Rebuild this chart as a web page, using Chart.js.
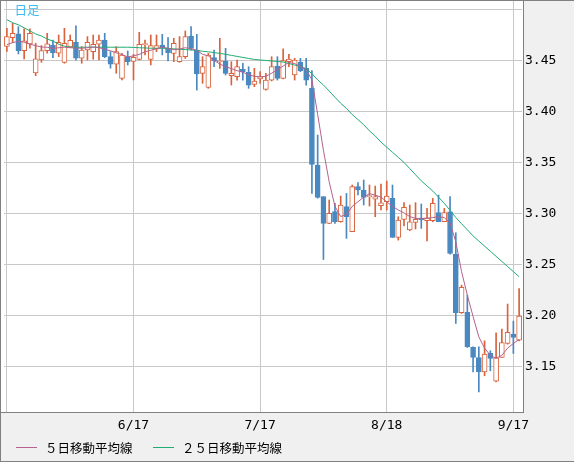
<!DOCTYPE html>
<html>
<head>
<meta charset="utf-8">
<script src="https://cdn.jsdelivr.net/npm/chart.js@4"></script>
<style>
html, body { margin: 0; padding: 0; background: #f0f0f0; }
canvas { display: block; }
</style>
</head>
<body>
<canvas id="chart" width="574" height="462"></canvas>
<script>
// Trading days shown on the x axis
const dates = ['5/16','5/19','5/20','5/21','5/22','5/23','5/26','5/27','5/28','5/29','5/30',
  '6/2','6/3','6/4','6/5','6/6','6/9','6/10','6/11','6/12','6/13','6/16','6/17','6/18','6/19','6/20','6/23','6/24','6/25','6/26','6/27','6/30',
  '7/1','7/2','7/3','7/4','7/7','7/8','7/9','7/10','7/11','7/14','7/15','7/16','7/17','7/18','7/21','7/22','7/23','7/24','7/25','7/28','7/29','7/30','7/31',
  '8/1','8/4','8/5','8/6','8/7','8/8','8/11','8/12','8/13','8/14','8/15','8/18','8/19','8/20','8/21','8/22','8/25','8/26','8/27','8/28','8/29',
  '9/1','9/2','9/3','9/4','9/5','9/8','9/9','9/10','9/11','9/12','9/15','9/16','9/17','9/18'];

// Dates with a vertical grid line, and the ones that get a label
const gridDates = ['5/16', '6/17', '7/17', '8/18', '9/17'];
const labelDates = ['6/17', '7/17', '8/18', '9/17'];

// Daily prices
const opens = [3.4637,3.4724,3.4760,3.4597,3.4662,3.4377,3.4505,3.4597,3.4652,3.4571,
  3.4482,3.4633,3.4679,3.4522,3.4603,3.4587,3.4659,3.4701,3.4538,3.4463,
  3.4325,3.4538,3.4490,3.4511,3.4655,3.4511,3.4613,3.4652,3.4619,3.4570,
  3.4488,3.4537,3.4740,3.4603,3.4374,3.4237,3.4528,3.4488,3.4495,3.4351,
  3.4341,3.4413,3.4384,3.4266,3.4318,3.4217,3.4308,3.4446,3.4325,3.4488,
  3.4358,3.4482,3.4423,3.4227,3.3475,3.3165,3.2903,3.3018,3.2919,3.3067,
  3.2821,3.3263,3.3230,3.3165,3.3140,3.3076,3.3115,3.3148,3.2765,3.2942,
  3.2838,3.2913,3.2952,3.2929,3.2929,3.3008,3.2919,3.3017,3.2602,3.2027,
  3.2030,3.1687,3.1588,3.1448,3.1628,3.1356,3.1588,3.1726,3.1817,3.1758];
const highs = [3.4815,3.4864,3.4831,3.4810,3.4810,3.4669,3.4646,3.4766,3.4700,3.4750,
  3.4815,3.4750,3.4839,3.4635,3.4734,3.4750,3.4750,3.4766,3.4587,3.4635,
  3.4571,3.4593,3.4560,3.4776,3.4701,3.4750,3.4750,3.4756,3.4724,3.4717,
  3.4734,3.4789,3.4832,3.4756,3.4537,3.4570,3.4603,3.4717,3.4619,3.4488,
  3.4505,3.4472,3.4439,3.4423,3.4390,3.4374,3.4537,3.4537,3.4613,3.4560,
  3.4521,3.4521,3.4521,3.4400,3.3769,3.3165,3.3132,3.3099,3.3171,3.3197,
  3.3279,3.3302,3.3328,3.3279,3.3269,3.3289,3.3318,3.3279,3.2968,3.3106,
  3.3083,3.3106,3.3093,3.3050,3.3148,3.3181,3.3050,3.3165,3.2811,3.2298,
  3.2200,3.1693,3.1693,3.1752,3.1654,3.1830,3.1866,3.2112,3.1945,3.2265];
const lows = [3.4588,3.4674,3.4564,3.4515,3.4620,3.4351,3.4482,3.4571,3.4528,3.4538,
  3.4473,3.4630,3.4505,3.4473,3.4505,3.4512,3.4505,3.4528,3.4424,3.4375,
  3.4309,3.4456,3.4309,3.4505,3.4554,3.4456,3.4586,3.4554,3.4495,3.4488,
  3.4482,3.4520,3.4603,3.4210,3.4276,3.4227,3.4439,3.4423,3.4358,3.4259,
  3.4308,3.4308,3.4227,3.4243,3.4276,3.4210,3.4299,3.4308,3.4318,3.4439,
  3.4308,3.4390,3.4259,3.3197,3.3150,3.2549,3.2900,3.2903,3.2915,3.2756,
  3.2821,3.3181,3.3083,3.3073,3.2968,3.3034,3.3034,3.2765,3.2739,3.2877,
  3.2831,3.2848,3.2854,3.2730,3.2919,3.2919,3.2919,3.2602,3.1922,3.2020,
  3.1687,3.1448,3.1252,3.1409,3.1458,3.1350,3.1588,3.1719,3.1628,3.1752];
const closes = [3.4735,3.4766,3.4597,3.4692,3.4766,3.4515,3.4597,3.4662,3.4577,3.4679,
  3.4669,3.4697,3.4522,3.4603,3.4679,3.4659,3.4701,3.4538,3.4463,3.4587,
  3.4554,3.4489,3.4530,3.4658,3.4658,3.4645,3.4645,3.4626,3.4577,3.4668,
  3.4537,3.4734,3.4619,3.4367,3.4439,3.4554,3.4498,3.4495,3.4374,3.4374,
  3.4439,3.4390,3.4259,3.4299,3.4341,3.4308,3.4439,3.4325,3.4498,3.4514,
  3.4505,3.4400,3.4308,3.3481,3.3158,3.2903,3.3001,3.2919,3.3083,3.2968,
  3.3263,3.3230,3.3158,3.3171,3.3165,3.3105,3.3171,3.2765,3.2936,3.3060,
  3.2919,3.2942,3.2936,3.2958,3.3099,3.2919,3.3008,3.2609,3.2027,3.2275,
  3.1693,3.1588,3.1448,3.1621,3.1579,3.1585,3.1735,3.1834,3.1785,3.1994];

// Moving averages as drawn on the picture
const ma5 = [3.4655,3.4675,3.4688,3.4680,3.4660,3.4645,3.4632,3.4630,3.4618,3.4625,
  3.4630,3.4625,3.4622,3.4620,3.4625,3.4632,3.4625,3.4610,3.4595,3.4575,
  3.4558,3.4535,3.4545,3.4560,3.4585,3.4600,3.4615,3.4630,3.4620,3.4605,
  3.4612,3.4625,3.4615,3.4600,3.4560,3.4545,3.4500,3.4465,3.4440,3.4420,
  3.4400,3.4385,3.4360,3.4345,3.4340,3.4345,3.4375,3.4410,3.4445,3.4480,
  3.4470,3.4440,3.4410,3.4310,3.3970,3.3620,3.3310,3.3070,3.2970,3.2990,
  3.3070,3.3115,3.3160,3.3195,3.3180,3.3160,3.3115,3.3070,3.3035,3.3005,
  3.2970,3.2952,3.2952,3.2952,3.2960,3.2968,3.2960,3.2905,3.2723,3.2430,
  3.2200,3.1990,3.1790,3.1680,3.1610,3.1580,3.1610,3.1680,3.1726,3.1765];
const ma25 = [3.490,3.487,3.485,3.482,3.479,3.476,3.474,3.471,3.469,3.466,
  3.464,3.463,3.463,3.463,3.463,3.463,3.463,3.463,3.463,3.463,
  3.463,3.463,3.4628,3.4625,3.4623,3.462,3.462,3.462,3.4617,3.4614,
  3.461,3.4607,3.4603,3.460,3.459,3.4585,3.4577,3.457,3.456,3.455,
  3.454,3.453,3.452,3.451,3.4505,3.450,3.4495,3.449,3.4485,3.447,
  3.4455,3.444,3.442,3.437,3.431,3.426,3.420,3.414,3.408,3.403,
  3.397,3.392,3.387,3.381,3.376,3.370,3.365,3.360,3.355,3.350,
  3.344,3.338,3.332,3.327,3.322,3.316,3.310,3.303,3.296,3.290,
  3.284,3.278,3.273,3.268,3.263,3.258,3.253,3.248,3.243,3.238];

// Axis range
const yMin = 3.1054;
const yMax = 3.5083;

// Colours
const upColor = '#d9633c';
const downColor = '#4a89c0';
const ma5Color = '#b5628e';
const ma25Color = '#22ac72';
const gridColor = '#c8c8c8';
const frameColor = '#808080';

const isUp = closes.map((c, i) => c >= opens[i]);
const bodies = opens.map((o, i) => [Math.min(o, closes[i]), Math.max(o, closes[i])]);
const wicks = lows.map((l, i) => [l, highs[i]]);

// Background, frame, title and legend
const framePlugin = {
    id: 'frame',
    beforeDraw(chart) {
        const ctx = chart.ctx;
        const area = chart.chartArea;
        ctx.save();
        ctx.fillStyle = '#f0f0f0';
        ctx.fillRect(0, 0, chart.width, chart.height);
        ctx.fillStyle = '#ffffff';
        ctx.fillRect(1, 1, area.right, area.bottom - 1);
        ctx.restore();
    },
    afterDraw(chart) {
        const ctx = chart.ctx;
        const area = chart.chartArea;
        ctx.save();
        ctx.fillStyle = frameColor;
        ctx.fillRect(0, 0, chart.width, 1);
        ctx.fillRect(0, 0, 1, chart.height);
        ctx.fillRect(0, chart.height - 1, chart.width, 1);
        ctx.fillRect(area.right + 1, 0, 1, area.bottom + 1);
        ctx.fillRect(0, area.bottom, area.right + 2, 1);

        // title
        ctx.fillStyle = '#3cbcef';
        ctx.font = '12.5px "Noto Sans CJK JP"';
        ctx.textBaseline = 'middle';
        ctx.fillText('日足', 14.5, 10.5);

        // legend
        const items = [
            { text: '５日移動平均線', color: ma5Color, x: 16 },
            { text: '２５日移動平均線', color: ma25Color, x: 153 }
        ];
        ctx.font = '12.5px "Noto Sans CJK JP"';
        items.forEach(item => {
            ctx.fillStyle = item.color;
            ctx.fillRect(item.x, 447, 21, 1);
            ctx.fillStyle = '#000';
            ctx.fillText(item.text, item.x + 29, 448.5);
        });
        ctx.restore();
    }
};

new Chart(document.getElementById('chart'), {
    type: 'bar',
    data: {
        labels: dates,
        datasets: [
            {
                type: 'line',
                label: '５日移動平均線',
                data: ma5,
                borderColor: ma5Color,
                borderWidth: 1,
                pointRadius: 0,
                fill: false
            },
            {
                type: 'line',
                label: '２５日移動平均線',
                data: ma25,
                borderColor: ma25Color,
                borderWidth: 1,
                pointRadius: 0,
                fill: false
            },
            {
                label: 'body',
                data: bodies,
                backgroundColor: isUp.map(u => u ? '#ffffff' : downColor),
                borderColor: isUp.map(u => u ? upColor : downColor),
                borderWidth: 1,
                borderSkipped: false,
                barThickness: 5,
                minBarLength: 1,
                grouped: false
            },
            {
                label: 'wick',
                data: wicks,
                backgroundColor: isUp.map(u => u ? upColor : downColor),
                borderWidth: 0,
                barThickness: 1,
                grouped: false
            }
        ]
    },
    options: {
        responsive: false,
        animation: false,
        layout: { padding: { left: 4, top: 1, right: 0, bottom: 0 } },
        plugins: {
            legend: { display: false },
            tooltip: { enabled: false }
        },
        scales: {
            x: {
                grid: {
                    offset: false,
                    drawTicks: false,
                    color: ctx => gridDates.includes(dates[ctx.index]) ? gridColor : 'rgba(0,0,0,0)'
                },
                border: { display: false },
                ticks: {
                    autoSkip: false,
                    maxRotation: 0,
                    padding: 6,
                    color: '#000',
                    font: { family: 'DejaVu Sans Mono', size: 13 },
                    callback: (v, i) => labelDates.includes(dates[i]) ? dates[i] : ''
                },
                afterFit: s => {
                    s.height = 50;
                    s.paddingLeft = 0;
                    s.paddingRight = 0;
                }
            },
            y: {
                position: 'right',
                min: yMin,
                max: yMax,
                grid: { color: gridColor, drawTicks: false },
                border: { display: false },
                ticks: {
                    stepSize: 0.05,
                    includeBounds: false,
                    padding: 3,
                    color: '#000',
                    font: { family: 'DejaVu Sans Mono', size: 13 },
                    callback: v => v > 3.47 ? '' : v.toFixed(2)
                },
                afterFit: s => {
                    s.width = 52;
                    s.paddingTop = 0;
                    s.paddingBottom = 0;
                }
            }
        }
    },
    plugins: [framePlugin]
});
</script>
</body>
</html>
